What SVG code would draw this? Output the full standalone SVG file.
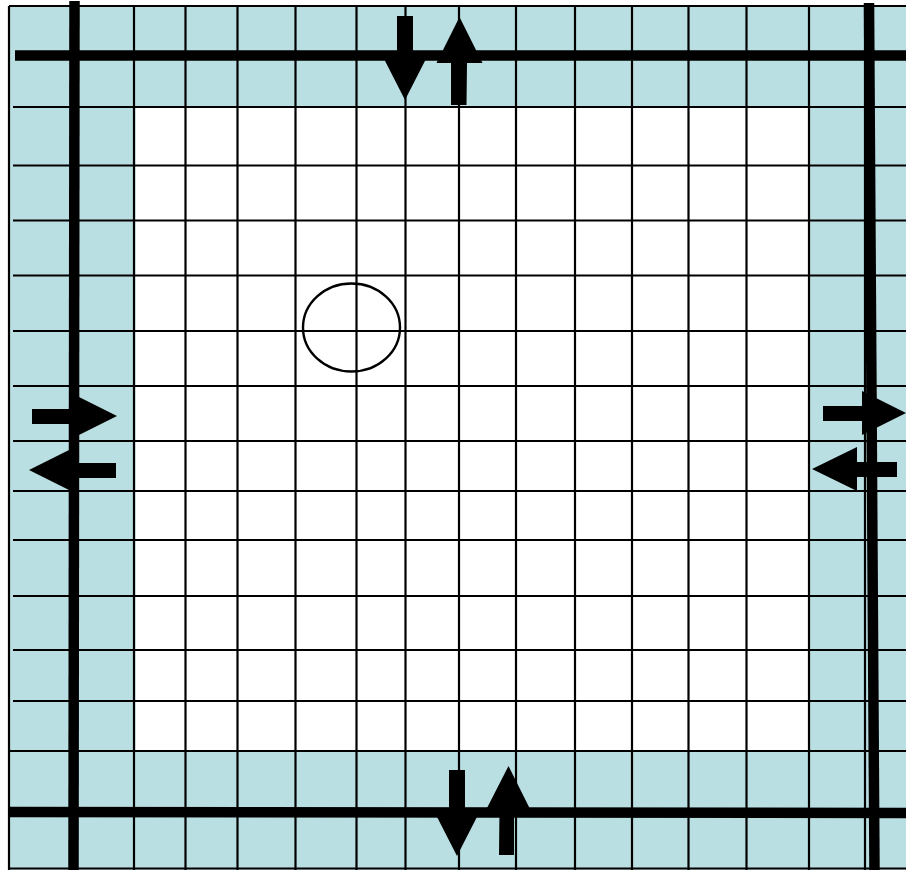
<svg xmlns="http://www.w3.org/2000/svg" width="906" height="870" viewBox="0 0 906 870">
<defs>
<style>
.bg{fill:#BADFE3}
.in{fill:#FFFFFF}
.thin{stroke:#000;stroke-width:2.2;fill:none}
.thick{stroke:#000;stroke-width:10.5;fill:none}
.arrow{fill:#000;stroke:none}
.ring{stroke:#000;stroke-width:2.4;fill:none}
</style>
</defs>
<g id="background">
<rect class="bg" x="9" y="6" width="897" height="864"/>
<rect class="in" x="135.5" y="107" width="673.5" height="644"/>
</g>
<g id="grid">
<path class="thin" d="M9,6H906 M9,6V870 M9,868.5H906
M13,107H906 M13,165.5H906 M13,220.5H906 M13,275.5H906 M13,331H906 M13,386H906 M13,441H906 M13,491H906 M13,540H906 M13,596H906 M13,650H906 M13,701H906 M10,751H906
M134,6V870 M185.5,6V870 M237.5,6V870 M295.5,6V870 M356.5,6V870 M405.5,6V870 M459,6V870 M516,6V870 M575,6V870 M632,6V870 M688.5,6V870 M746.5,6V870 M809,6V870 M865,6V870"/>
</g>
<g id="walls">
<path class="thick" d="M15,55.5H906"/>
<path class="thick" d="M8,812L906,813"/>
<path class="thick" d="M74.5,1L73.5,870"/>
<path class="thick" d="M869,3L874.5,870"/>
</g>
<g id="connectors">
<polygon id="arrow-top-down" class="arrow" points="397,16 413,16 413,55 428,55 405,100 382,55 397,55"/>
<polygon id="arrow-top-up" class="arrow" points="459.5,17 482.5,63 467,63 466.5,105 451,105 451,63 436.5,63"/>
<polygon id="arrow-bottom-down" class="arrow" points="449,770 465,770 465,811 480,811 457,856 434,811 449,811"/>
<polygon id="arrow-bottom-up" class="arrow" points="508.5,766 530,809 514,809 514,855 499,855 499.5,809 486.5,809"/>
<polygon id="arrow-left-right" class="arrow" points="32,409 73,409 73,394 117,416 73,438 73,424 32,424"/>
<polygon id="arrow-left-left" class="arrow" points="29,470 73,448 73,463 116,463 116,478 73,478 73,492"/>
<polygon id="arrow-right-right" class="arrow" points="823,406 862,406 862,391 906,413 862,435 862,421 823,421"/>
<polygon id="arrow-right-left" class="arrow" points="812,469 857,447 857,462 897,462 897,477 857,477 857,491"/>
</g>
<g id="marker-circle">
<ellipse class="ring" cx="351.5" cy="327.5" rx="48.5" ry="44"/>
</g>
</svg>
